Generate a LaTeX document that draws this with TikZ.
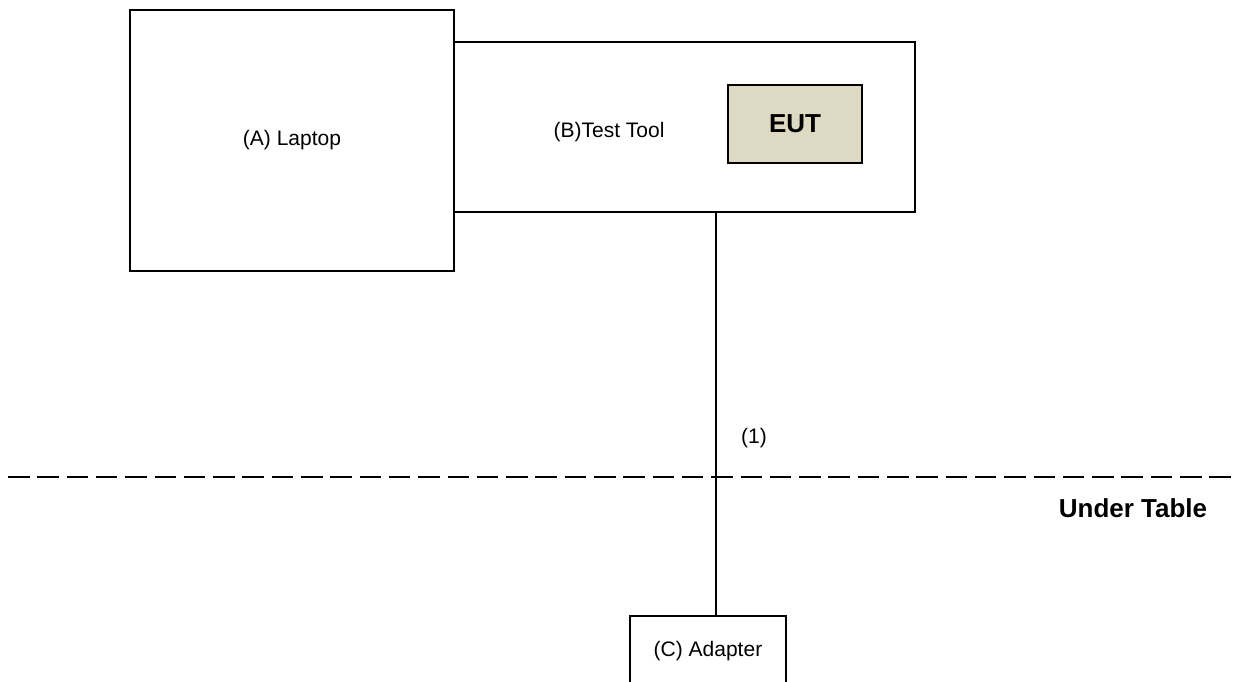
\documentclass[tikz,border=0pt]{standalone}
\usepackage{fontspec}
\setmainfont{Liberation Sans}
\definecolor{euttan}{HTML}{DDD9C3}
\begin{document}
\begin{tikzpicture}[x=1pt,y=-1pt,
  box/.style={draw=black,line width=1.8pt,fill=white,inner sep=0pt},
  lbl/.style={font=\fontsize{21}{24}\selectfont,inner sep=0pt},
  blbl/.style={font=\fontsize{26}{30}\selectfont\bfseries,inner sep=0pt}]
\useasboundingbox (0,0) rectangle (1234,682);
\clip (0,0) rectangle (1234,682);
% Test tool (behind laptop)
\draw[box] (454,42) rectangle (915,212);
\node[box,minimum width=461pt,minimum height=170pt,draw=none,fill=none] (tt) at (684.5,127) {};
% Laptop
\draw[box] (130,10) rectangle (454,271);
\node[minimum width=324pt,minimum height=261pt,inner sep=0pt] (lap) at (292,140.5) {};
\node[lbl] (laplbl) at (292,140) {(A) Laptop};
\node[lbl] (ttlbl) at (609,132) {(B)Test Tool};
% EUT
\node[box,fill=euttan,minimum width=134pt,minimum height=78pt,blbl] (eut) at (795,124) {EUT};
% Adapter
\draw[box] (630,700) -- (630,616) -- (786,616) -- (786,700);
\node[minimum width=156pt,minimum height=84pt,inner sep=0pt] (ad) at (708,658) {};
\node[lbl] (adlbl) at (708,651) {(C) Adapter};
% connector
\path (tt.south) ++(31.5,0) coordinate (c1);
\draw[line width=1.8pt] (c1) -- (c1 |- ad.north);
\node[lbl] (one) at (754,438) {(1)};
% table line
\coordinate (tl) at (8,477);
\coordinate (tr) at (1234,477);
\draw[line width=2pt,dash pattern=on 21.5pt off 7.8pt] (tl) -- (tr);
\node[blbl] (under) at (1133,508) {Under Table};
\end{tikzpicture}
\end{document}
